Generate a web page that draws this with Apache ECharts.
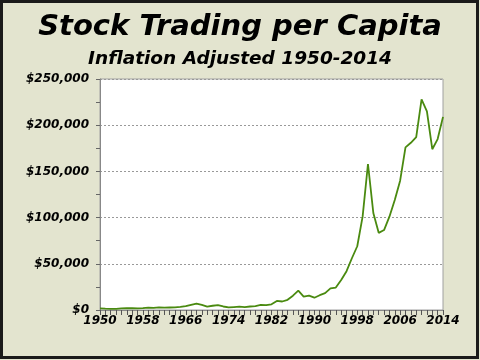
<!DOCTYPE html>
<html>
<head>
<meta charset="utf-8">
<script src="https://cdn.jsdelivr.net/npm/echarts@6/dist/echarts.min.js"></script>
<style>
html,body{margin:0;padding:0;background:#E3E4CF;}
#c{width:480px;height:360px;}
</style>
</head>
<body>
<div id="c"></div>
<script>
var years = ['1950','1951','1952','1953','1954','1955','1956','1957','1958','1959',
  '1960','1961','1962','1963','1964','1965','1966','1967','1968','1969',
  '1970','1971','1972','1973','1974','1975','1976','1977','1978','1979',
  '1980','1981','1982','1983','1984','1985','1986','1987','1988','1989',
  '1990','1991','1992','1993','1994','1995','1996','1997','1998','1999',
  '2000','2001','2002','2003','2004','2005','2006','2007','2008','2009',
  '2010','2011','2012','2013','2014'];
var tradingPerCapita = [1800,1500,1300,1300,1700,2000,1900,1800,2100,2500,
  2200,2900,2500,2700,2900,3400,4200,5600,7000,5500,
  3600,4600,5200,3800,2800,3200,3600,3200,3800,4300,
  5600,5200,6200,9800,9200,11000,15500,20900,14400,15500,
  13300,16000,18200,23400,24300,32500,42000,56000,69000,101000,
  158000,105000,83500,86500,101000,119000,140000,176000,181000,187000,
  228000,215000,174000,185000,209000];
var titleText = 'Stock Trading per Capita';
var subtitleText = 'Inflation Adjusted 1950-2014';

var chart = echarts.init(document.getElementById('c'), null, {renderer:'canvas'});
var font = 'DejaVu Sans, Verdana, sans-serif';
chart.setOption({
  backgroundColor: '#E3E4CF',
  animation: false,
  title: [
    {text: titleText, left: 'center', top: 8,
     textStyle: {fontFamily: font, fontSize: 29, fontWeight: 'bold', fontStyle: 'italic', color: '#000'}},
    {text: subtitleText, left: 'center', top: 45,
     textStyle: {fontFamily: font, fontSize: 18.5, fontWeight: 'bold', fontStyle: 'italic', color: '#000'}}
  ],
  graphic: [{
    type: 'rect', silent: true, z: 100,
    shape: {x: 1.5, y: 1.5, width: 476, height: 356},
    style: {fill: null, stroke: '#1a1a1a', lineWidth: 3}
  }],
  grid: {left: 100, right: 37, top: 79, bottom: 50, show: true,
         backgroundColor: '#fff', borderColor: '#a0a0a0', borderWidth: 1},
  xAxis: [{
    type: 'category', data: years, boundaryGap: false, position: 'bottom',
    axisLine: {lineStyle: {color: '#888', width: 1}},
    axisTick: {interval: 0, length: 3, lineStyle: {color: '#555'}},
    axisLabel: {interval: 7, margin: 5, fontFamily: font, fontSize: 12, fontWeight: 'bold',
                fontStyle: 'italic', color: '#000'},
    splitLine: {show: false}
  }, {
    type: 'category', data: years, boundaryGap: false, position: 'top', offset: -231,
    axisLine: {show: false},
    axisTick: {interval: 0, inside: true, length: 5, lineStyle: {color: '#555'}},
    axisLabel: {show: false},
    splitLine: {show: false}
  }],
  yAxis: {
    type: 'value', min: 0, max: 250000, interval: 50000,
    axisLine: {show: true, lineStyle: {color: '#888'}},
    axisTick: {show: true, length: 4, lineStyle: {color: '#666'}},
    minorTick: {show: true, splitNumber: 2, length: 4, lineStyle: {color: '#666'}},
    axisLabel: {margin: 11, fontFamily: font, fontSize: 12, fontWeight: 'bold', fontStyle: 'italic', color: '#000',
      formatter: function (v) { return '$' + v.toLocaleString('en-US'); }},
    splitLine: {show: true, lineStyle: {color: '#999', type: [2, 2], width: 1}}
  },
  series: [{
    type: 'line', data: tradingPerCapita, xAxisIndex: 0, symbol: 'none',
    lineStyle: {color: '#4A8A10', width: 1.8}
  }]
});
</script>
</body>
</html>
